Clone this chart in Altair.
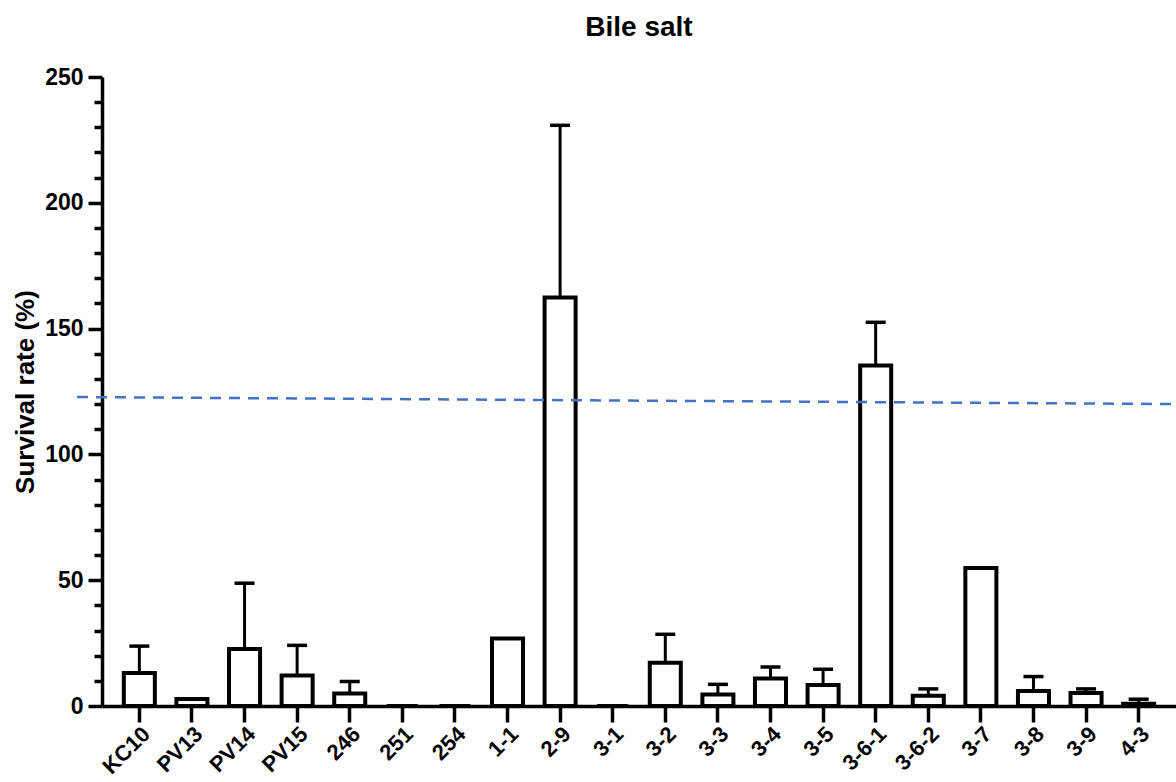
import altair as alt
import pandas as pd

categories = ["KC10", "PV13", "PV14", "PV15", "246", "251", "254", "1-1", "2-9", "3-1",
              "3-2", "3-3", "3-4", "3-5", "3-6-1", "3-6-2", "3-7", "3-8", "3-9", "4-3"]
means = [13.1, 2.8, 22.7, 12.1, 5.0, 0, 0, 26.8, 162.4, 0,
         17.2, 4.6, 10.9, 8.3, 135.3, 4.1, 54.8, 6.0, 5.2, 0.9]
upper = [23.8, None, 48.8, 24.1, 9.7, None, None, None, 230.8, None,
         28.5, 8.6, 15.5, 14.6, 152.5, 6.8, None, 11.7, 6.8, 2.7]
ref_start, ref_end = 122.8, 120.0

df = pd.DataFrame({"cat": categories, "mean": means, "upper": upper})
ref = pd.DataFrame({"y1": [ref_start], "y2": [ref_end]})

W, H = 1074, 629
FONT = "Liberation Sans"

xaxis = alt.Axis(title=None, labelAngle=-45, labelFontSize=22, labelFontWeight="bold",
                 labelFont=FONT, labelColor="black", labelPadding=1, labelOverlap=False,
                 domainColor="black", domainWidth=3.5, tickColor="black",
                 tickWidth=3.5, tickSize=16)
xscale = alt.Scale(paddingInner=0.41, paddingOuter=0.415)
yaxis = alt.Axis(title="Survival rate (%)", values=list(range(0, 251, 10)),
                 labelExpr="datum.value % 50 === 0 ? datum.label : ''",
                 labelOverlap=False,
                 titleFontSize=26, titleFont=FONT, titleFontWeight="bold",
                 titleColor="black", titlePadding=6,
                 labelFontSize=23, labelFont=FONT, labelFontWeight="bold",
                 labelColor="black", labelPadding=5,
                 domainColor="black", domainWidth=3.5, tickColor="black", tickWidth=3.5,
                 tickSize={"condition": {"test": "datum.value % 50 === 0", "value": 14},
                           "value": 8},
                 grid=False)
yscale = alt.Scale(domain=[0, 250], nice=False)


def X():
    return alt.X("cat:N", sort=categories, scale=xscale, axis=xaxis)


def Y(field):
    return alt.Y(field, scale=yscale, axis=yaxis)


base = alt.Chart(df)

bars = base.mark_bar(fill="white", stroke="black", strokeWidth=4).encode(
    x=X(), y=Y("mean:Q"),
)

err = base.transform_filter("isValid(datum.upper)").mark_rule(color="black", strokeWidth=3).encode(
    x=X(), y=Y("mean:Q"), y2="upper:Q",
)
caps = base.transform_filter("isValid(datum.upper)").mark_tick(
    color="black", thickness=3.5, size=20, orient="horizontal", opacity=1).encode(
    x=X(), y=Y("upper:Q"),
)

refline = alt.Chart(ref).mark_rule(color="#4472C4", strokeWidth=2.5, strokeDash=[11, 8]).encode(
    x=alt.value(-25), x2=alt.value(W),
    y=Y("y1:Q"), y2="y2:Q",
)

chart = alt.layer(bars, err, caps, refline).properties(
    width=W, height=H,
    background="white",
    autosize=alt.AutoSizeParams(type="none"),
    padding={"left": 102, "top": 77, "right": 0, "bottom": 76},
    title=alt.Title("Bile salt", fontSize=28, font=FONT, fontWeight="bold", color="black",
                    anchor="middle", offset=24),
).configure_view(stroke=None)

chart.save("out.html", embed_options={"renderer": "svg", "actions": False})
